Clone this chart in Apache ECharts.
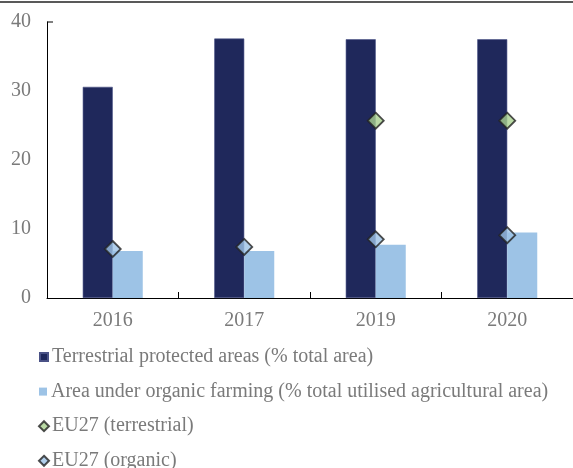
<!DOCTYPE html>
<html>
<head>
<meta charset="utf-8">
<script src="https://cdn.jsdelivr.net/npm/echarts@6/dist/echarts.min.js"></script>
<style>
html,body{margin:0;padding:0;background:#fff;}
#chart{width:573px;height:468px;}
</style>
</head>
<body>
<div id="chart"></div>
<script>
var categories = ['2016', '2017', '2019', '2020'];
var terrestrial = [30.6, 37.6, 37.5, 37.5];
var organic = [6.8, 6.8, 7.7, 9.5];
var euTerrestrial = [null, null, 25.7, 25.7];
var euOrganic = [7.1, 7.4, 8.5, 9.1];
var yTicks = [0, 10, 20, 30, 40];

var names = [
  'Terrestrial protected areas (% total area)',
  'Area under organic farming (% total utilised agricultural area)',
  'EU27 (terrestrial)',
  'EU27 (organic)'
];
var icons = ['rect', 'rect', 'diamond', 'diamond'];
var FONT = '"Liberation Serif", "Times New Roman", serif';
var TXT = '#7a7a7a';

var legends = names.map(function (n, i) {
  var isDiamond = icons[i] === 'diamond';
  return {
    orient: 'horizontal',
    left: isDiamond ? 38 : 39,
    top: 347 + i * 34.6,
    padding: 0,
    itemWidth: isDiamond ? 10 : 8,
    itemHeight: isDiamond ? 10 : 8,
    selectedMode: false,
    textStyle: {fontFamily: FONT, fontSize: 20, color: TXT, padding: [0, 0, 0, isDiamond ? -2 : -1]},
    data: [{name: n, icon: icons[i]}]
  };
});

var chart = echarts.init(document.getElementById('chart'));
chart.setOption({
  animation: false,
  backgroundColor: '#fff',
  grid: {left: 47, right: 0, top: 22, bottom: 170, containLabel: false},
  legend: legends,
  xAxis: {
    type: 'category',
    data: categories,
    axisLine: {lineStyle: {color: '#000', width: 1}},
    axisTick: {show: true, inside: true, length: 6, lineStyle: {color: '#000'}},
    axisLabel: {fontFamily: FONT, fontSize: 20, color: TXT, margin: 13}
  },
  yAxis: {
    type: 'value',
    min: yTicks[0],
    max: yTicks[yTicks.length - 1],
    interval: 10,
    splitLine: {show: false},
    axisLine: {show: true, lineStyle: {color: '#000', width: 1}},
    axisTick: {show: false},
    axisLabel: {fontFamily: FONT, fontSize: 20, color: TXT, margin: 16}
  },
  series: [
    {
      name: names[0], type: 'bar', data: terrestrial,
      barWidth: 30, barGap: '0%',
      itemStyle: {color: '#1F285B', borderColor: '#4a5286', borderWidth: 0.6}
    },
    {
      name: names[1], type: 'bar', data: organic,
      barWidth: 30, barGap: '0%',
      itemStyle: {color: '#9DC3E6'}
    },
    {
      name: names[2], type: 'scatter', data: euTerrestrial,
      symbol: 'diamond', symbolSize: 16, z: 5,
      itemStyle: {color: '#A9D18E', borderColor: '#222', borderWidth: 1.8}
    },
    {
      name: names[3], type: 'scatter', data: euOrganic,
      symbol: 'diamond', symbolSize: 16, z: 5,
      itemStyle: {color: '#9DC3E6', borderColor: '#222', borderWidth: 1.8}
    }
  ]
});

var topPt = chart.convertToPixel({xAxisIndex: 0, yAxisIndex: 0}, [0, yTicks[yTicks.length - 1]]);
var axisX = chart.getModel().getComponent('grid').coordinateSystem.getRect().x;
chart.setOption({
  graphic: [
    {type: 'line', shape: {x1: 0, y1: 2, x2: 573, y2: 2}, style: {stroke: '#222', lineWidth: 1.5}, silent: true},
    {type: 'line', shape: {x1: axisX, y1: topPt[1], x2: axisX + 6, y2: topPt[1]}, style: {stroke: '#000', lineWidth: 1}, silent: true}
  ]
});
</script>
</body>
</html>
